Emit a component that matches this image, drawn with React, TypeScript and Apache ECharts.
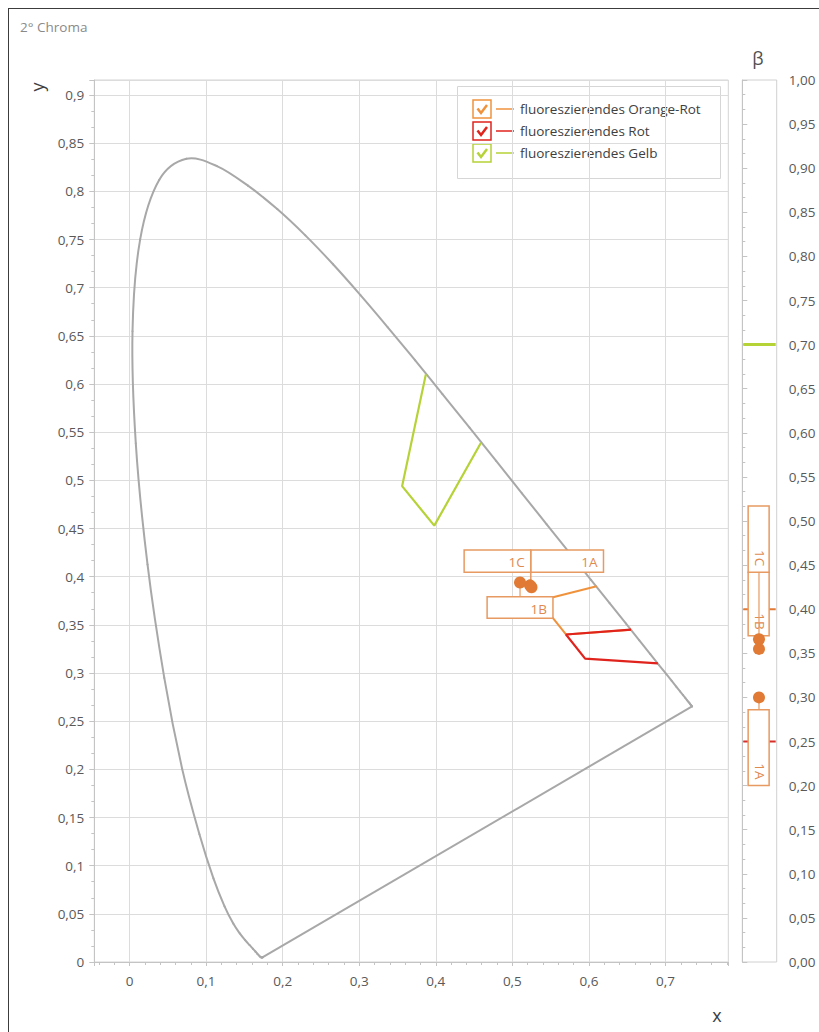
import React, { useEffect, useRef } from 'react';
import * as echarts from 'echarts';

// CIE 1931 2° spectral locus (380–700 nm, 5 nm steps)
const locusX = [
  0.1741, 0.1740, 0.1738, 0.1736, 0.1733, 0.1730, 0.1726, 0.1721, 0.1714, 0.1703,
  0.1689, 0.1669, 0.1644, 0.1611, 0.1566, 0.1510, 0.1440, 0.1355, 0.1241, 0.1096,
  0.0913, 0.0687, 0.0454, 0.0235, 0.0082, 0.0039, 0.0139, 0.0389, 0.0743, 0.1142,
  0.1547, 0.1929, 0.2296, 0.2658, 0.3016, 0.3373, 0.3731, 0.4087, 0.4441, 0.4788,
  0.5125, 0.5448, 0.5752, 0.6029, 0.6270, 0.6482, 0.6658, 0.6801, 0.6915, 0.7006,
  0.7079, 0.7140, 0.7190, 0.7230, 0.7260, 0.7283, 0.7300, 0.7311, 0.7320, 0.7327,
  0.7334, 0.7340, 0.7344, 0.7346, 0.7347,
];
const locusY = [
  0.0050, 0.0050, 0.0049, 0.0049, 0.0048, 0.0048, 0.0048, 0.0048, 0.0051, 0.0058,
  0.0069, 0.0086, 0.0109, 0.0138, 0.0177, 0.0227, 0.0297, 0.0399, 0.0578, 0.0868,
  0.1327, 0.2007, 0.2950, 0.4127, 0.5384, 0.6548, 0.7502, 0.8120, 0.8338, 0.8262,
  0.8059, 0.7816, 0.7543, 0.7243, 0.6923, 0.6589, 0.6245, 0.5896, 0.5547, 0.5202,
  0.4866, 0.4544, 0.4242, 0.3965, 0.3725, 0.3514, 0.3340, 0.3197, 0.3083, 0.2993,
  0.2920, 0.2859, 0.2809, 0.2770, 0.2740, 0.2717, 0.2700, 0.2689, 0.2680, 0.2673,
  0.2666, 0.2660, 0.2656, 0.2654, 0.2653,
];
// line of purples (700 nm back to 380 nm)
const purpleX = [0.7347, 0.1741];
const purpleY = [0.2653, 0.0050];

// colour areas
const seriesNames = ['fluoreszierendes Orange-Rot', 'fluoreszierendes Rot', 'fluoreszierendes Gelb'];
const orangeRotX = [0.610, 0.535, 0.570, 0.655];
const orangeRotY = [0.390, 0.375, 0.340, 0.345];
const rotX = [0.655, 0.570, 0.595, 0.690];
const rotY = [0.345, 0.340, 0.315, 0.310];
const gelbX = [0.387, 0.356, 0.398, 0.459];
const gelbY = [0.610, 0.494, 0.453, 0.539];
const betaLimits = [0.40, 0.25, 0.70];

// measured samples
const sampleNames = ['1A', '1B', '1C'];
const sampleX = [0.523, 0.510, 0.525];
const sampleY = [0.391, 0.394, 0.389];
const sampleBeta = [0.300, 0.355, 0.366];

// label boxes (data units)
const labelX0 = [0.524, 0.467, 0.437];
const labelX1 = [0.619, 0.553, 0.524];
const labelY0 = [0.4045, 0.3568, 0.4045];
const labelY1 = [0.4277, 0.3792, 0.4277];
const betaLabelLow = [0.200, 0.370, 0.442];
const betaLabelHigh = [0.286, 0.442, 0.517];

const yTickLabels = { min: 0, max: 0.9156, step: 0.05 };
const betaTickLabels = { min: 0, max: 1, step: 0.05 };

const FONT = '"Open Sans", "Noto Sans", sans-serif';
const FS = 13.5;
const COLORS = ['#f0923c', '#e0231c', '#b5d236'];
const BOX = '#e79a62';
const BOX_TEXT = '#e08a50';
const DOT = '#e07a34';
const LABEL = '#595959';
const GRIDLINE = '#dcdcdc';
const AXIS = '#c4c4c4';
const LOCUS = '#a8a8a8';

const fmt = (v: number) => String(Math.round(v * 1000) / 1000).replace('.', ',');

export default function App() {
  const ref = useRef<HTMLDivElement>(null);
  useEffect(() => {
    const chart = echarts.init(ref.current!, null, { renderer: 'svg' });

    const pairs = (xs: number[], ys: number[]) => xs.map((x, i) => [x, ys[i]]);
    const nL = locusX.length;

    const legendRows = seriesNames.map((name, i) => {
      const cy = 101 + i * 22;
      return {
        type: 'group',
        children: [
          { type: 'rect', shape: { x: 465, y: cy - 9, width: 18, height: 18 }, style: { fill: '#fff', stroke: COLORS[i], lineWidth: 1.5 } },
          { type: 'polyline', shape: { points: [[469.5, cy - 0.5], [473, cy + 4], [479, cy - 4]] }, style: { fill: 'none', stroke: COLORS[i], lineWidth: 2.5 } },
          { type: 'line', shape: { x1: 488, y1: cy, x2: 506, y2: cy }, style: { stroke: COLORS[i], lineWidth: 1.5 } },
          { type: 'text', x: 512, y: cy, style: { text: name, fill: '#404040', fontSize: FS, fontFamily: FONT, verticalAlign: 'middle' } },
        ],
      };
    });

    const option: any = {
      animation: false,
      backgroundColor: '#fff',
      textStyle: { fontFamily: FONT },
      grid: [
        { left: 86.3, top: 72, width: 634, height: 882, show: true, borderColor: '#d4d4d4', borderWidth: 1, backgroundColor: 'transparent' },
        { left: 734.3, top: 72, width: 34.4, height: 882, show: true, borderColor: '#d0d0d0', borderWidth: 1, backgroundColor: 'transparent' },
      ],
      xAxis: [
        {
          type: 'value', gridIndex: 0, min: -0.046, max: 0.782, minInterval: 0.1, maxInterval: 0.1, splitNumber: 8,
          axisLine: { show: true, onZero: false, lineStyle: { color: AXIS } },
          axisTick: { show: true, length: 4, lineStyle: { color: AXIS } },
          minorTick: { show: true, splitNumber: 5, length: 3, lineStyle: { color: AXIS } },
          splitLine: { show: true, lineStyle: { color: GRIDLINE, width: 1 } },
          axisLabel: { showMinLabel: false, showMaxLabel: false, formatter: fmt, color: LABEL, fontSize: FS, margin: 12, fontFamily: FONT },
        },
        { type: 'value', gridIndex: 1, min: 0, max: 1, show: false },
      ],
      yAxis: [
        {
          type: 'value', gridIndex: 0, min: yTickLabels.min, max: yTickLabels.max, interval: yTickLabels.step,
          axisLine: { show: true, onZero: false, lineStyle: { color: AXIS } },
          axisTick: { show: true, length: 5, lineStyle: { color: AXIS } },
          minorTick: { show: true, splitNumber: 3, length: 3, lineStyle: { color: AXIS } },
          splitLine: { show: true, lineStyle: { color: GRIDLINE, width: 1 } },
          axisLabel: { showMaxLabel: false, formatter: fmt, color: LABEL, fontSize: FS, margin: 10, fontFamily: FONT },
        },
        {
          type: 'value', gridIndex: 1, position: 'right', min: betaTickLabels.min, max: betaTickLabels.max, interval: betaTickLabels.step,
          axisLine: { show: true, lineStyle: { color: AXIS } },
          axisTick: { show: true, length: 5, lineStyle: { color: AXIS } },
          minorTick: { show: true, splitNumber: 3, length: 3, lineStyle: { color: AXIS } },
          splitLine: { show: false },
          axisLabel: { formatter: (v: number) => v.toFixed(2).replace('.', ','), color: LABEL, fontSize: FS, margin: 12, fontFamily: FONT },
        },
      ],
      graphic: [
        { type: 'text', x: 12, y: 19, style: { text: '2° Chroma', fill: '#8a8a8a', fontSize: FS, fontFamily: FONT, verticalAlign: 'middle' } },
        { type: 'text', x: 29, y: 79, rotation: Math.PI / 2, style: { text: 'y', fill: '#404040', fontSize: 18, fontFamily: FONT, align: 'center', verticalAlign: 'middle' } },
        { type: 'text', x: 709, y: 1007, style: { text: 'x', fill: '#404040', fontSize: 18, fontFamily: FONT, align: 'center', verticalAlign: 'middle' } },
        { type: 'text', x: 750, y: 50, style: { text: 'β', fill: '#505050', fontSize: 18, fontFamily: FONT, align: 'center', verticalAlign: 'middle' } },
        {
          type: 'group', z: 50,
          children: [
            { type: 'rect', shape: { x: 449.5, y: 78.5, width: 263, height: 92 }, style: { fill: '#fff', stroke: '#d6d6d6', lineWidth: 1 } },
            ...legendRows,
          ],
        },
      ],
      series: [
        {
          // spectral locus drawn as a Catmull-Rom curve through the tabulated points
          name: 'Spektralzug', type: 'custom', coordinateSystem: 'cartesian2d', xAxisIndex: 0, yAxisIndex: 0, z: 2, silent: true,
          data: pairs(locusX, locusY),
          renderItem: (params: any, api: any) => {
            const i = params.dataIndex;
            if (i >= nL - 1) return null;
            const P = (k: number) => {
              const j = Math.max(0, Math.min(nL - 1, k));
              return api.coord([locusX[j], locusY[j]]);
            };
            const p0 = P(i - 1), p1 = P(i), p2 = P(i + 1), p3 = P(i + 2);
            return {
              type: 'bezierCurve',
              shape: {
                x1: p1[0], y1: p1[1], x2: p2[0], y2: p2[1],
                cpx1: p1[0] + (p2[0] - p0[0]) / 6, cpy1: p1[1] + (p2[1] - p0[1]) / 6,
                cpx2: p2[0] - (p3[0] - p1[0]) / 6, cpy2: p2[1] - (p3[1] - p1[1]) / 6,
              },
              style: { stroke: LOCUS, lineWidth: 2, fill: 'none', lineCap: 'round' },
            };
          },
        },
        {
          name: 'Purpurlinie', type: 'line', xAxisIndex: 0, yAxisIndex: 0, data: pairs(purpleX, purpleY),
          showSymbol: false, symbol: 'none', lineStyle: { color: LOCUS, width: 2 }, z: 2, silent: true,
        },
        {
          name: seriesNames[2], type: 'line', xAxisIndex: 0, yAxisIndex: 0, data: pairs(gelbX, gelbY),
          symbol: 'none', lineStyle: { color: COLORS[2], width: 2.2 }, z: 3,
        },
        {
          name: seriesNames[0], type: 'line', xAxisIndex: 0, yAxisIndex: 0, data: pairs(orangeRotX, orangeRotY),
          symbol: 'none', lineStyle: { color: COLORS[0], width: 2 }, z: 3,
        },
        {
          name: seriesNames[1], type: 'line', xAxisIndex: 0, yAxisIndex: 0, data: pairs(rotX, rotY),
          symbol: 'none', lineStyle: { color: COLORS[1], width: 2.2 }, z: 3,
        },
        {
          name: 'labels', type: 'custom', coordinateSystem: 'cartesian2d', xAxisIndex: 0, yAxisIndex: 0, z: 4,
          data: sampleNames.map((_, i) => [labelX0[i], labelY0[i], labelX1[i], labelY1[i], sampleX[i], sampleY[i]]),
          renderItem: (params: any, api: any) => {
            const i = params.dataIndex;
            const tl = api.coord([api.value(0), api.value(3)]);
            const br = api.coord([api.value(2), api.value(1)]);
            const pt = api.coord([api.value(4), api.value(5)]);
            const cx = Math.min(Math.max(pt[0], tl[0]), br[0]);
            const edgeY = pt[1] > br[1] ? br[1] : tl[1];
            return {
              type: 'group',
              children: [
                { type: 'line', shape: { x1: cx, y1: edgeY, x2: cx, y2: pt[1] }, style: { stroke: BOX, lineWidth: 1.2 } },
                { type: 'rect', shape: { x: tl[0], y: tl[1], width: br[0] - tl[0], height: br[1] - tl[1] }, style: { fill: '#fff', stroke: BOX, lineWidth: 1.5 } },
                { type: 'text', x: br[0] - 6, y: (tl[1] + br[1]) / 2 + 1, style: { text: sampleNames[i], fill: BOX_TEXT, fontSize: FS, fontFamily: FONT, align: 'right', verticalAlign: 'middle' } },
              ],
            };
          },
        },
        {
          name: 'samples', type: 'scatter', xAxisIndex: 0, yAxisIndex: 0, z: 5,
          data: pairs(sampleX, sampleY), symbolSize: 12, itemStyle: { color: DOT, opacity: 1 },
        },
        {
          name: 'betaLimits', type: 'custom', coordinateSystem: 'cartesian2d', xAxisIndex: 1, yAxisIndex: 1, z: 3,
          data: betaLimits.map((b) => [0, b]),
          renderItem: (params: any, api: any) => {
            const i = params.dataIndex;
            const a = api.coord([0, api.value(1)]);
            const b = api.coord([1, api.value(1)]);
            return { type: 'line', shape: { x1: a[0] + 1, y1: a[1], x2: b[0] - 1, y2: b[1] }, style: { stroke: i === 2 ? COLORS[2] : (i === 0 ? '#e07a34' : '#d7302a'), lineWidth: i === 2 ? 3 : 2 } };
          },
        },
        {
          name: 'betaLabels', type: 'custom', coordinateSystem: 'cartesian2d', xAxisIndex: 1, yAxisIndex: 1, z: 4,
          data: sampleNames.map((_, i) => [betaLabelLow[i], betaLabelHigh[i], sampleBeta[i]]),
          renderItem: (params: any, api: any) => {
            const i = params.dataIndex;
            const tl = api.coord([0.17, api.value(1)]);
            const br = api.coord([0.78, api.value(0)]);
            const pt = api.coord([0.485, api.value(2)]);
            const edgeY = pt[1] < tl[1] ? tl[1] : br[1];
            const cx = (tl[0] + br[0]) / 2;
            return {
              type: 'group',
              children: [
                { type: 'line', shape: { x1: pt[0], y1: edgeY, x2: pt[0], y2: pt[1] }, style: { stroke: BOX, lineWidth: 1.2 } },
                { type: 'rect', shape: { x: tl[0], y: tl[1], width: br[0] - tl[0], height: br[1] - tl[1] }, style: { fill: '#fff', stroke: BOX, lineWidth: 1.5 } },
                { type: 'text', x: cx + 1, y: br[1] - 6, rotation: -Math.PI / 2, style: { text: sampleNames[i], fill: BOX_TEXT, fontSize: FS, fontFamily: FONT, align: 'right', verticalAlign: 'middle' } },
              ],
            };
          },
        },
        {
          name: 'betaSamples', type: 'scatter', xAxisIndex: 1, yAxisIndex: 1, z: 5,
          data: sampleBeta.map((b) => [0.485, b]), symbolSize: 12, itemStyle: { color: DOT, opacity: 1 },
        },
      ],
    };
    chart.setOption(option);
    return () => chart.dispose();
  }, []);
  return (
    <>
      <div ref={ref} style={{ position: 'fixed', left: 8, top: 8, width: 811, height: 1024 }} />
      <div
        style={{
          position: 'fixed', left: 8, top: 8, width: 811, height: 1024, boxSizing: 'border-box',
          borderTop: '1.5px solid #3c3c3c', borderLeft: '1.5px solid #3c3c3c', pointerEvents: 'none',
        }}
      />
    </>
  );
}
